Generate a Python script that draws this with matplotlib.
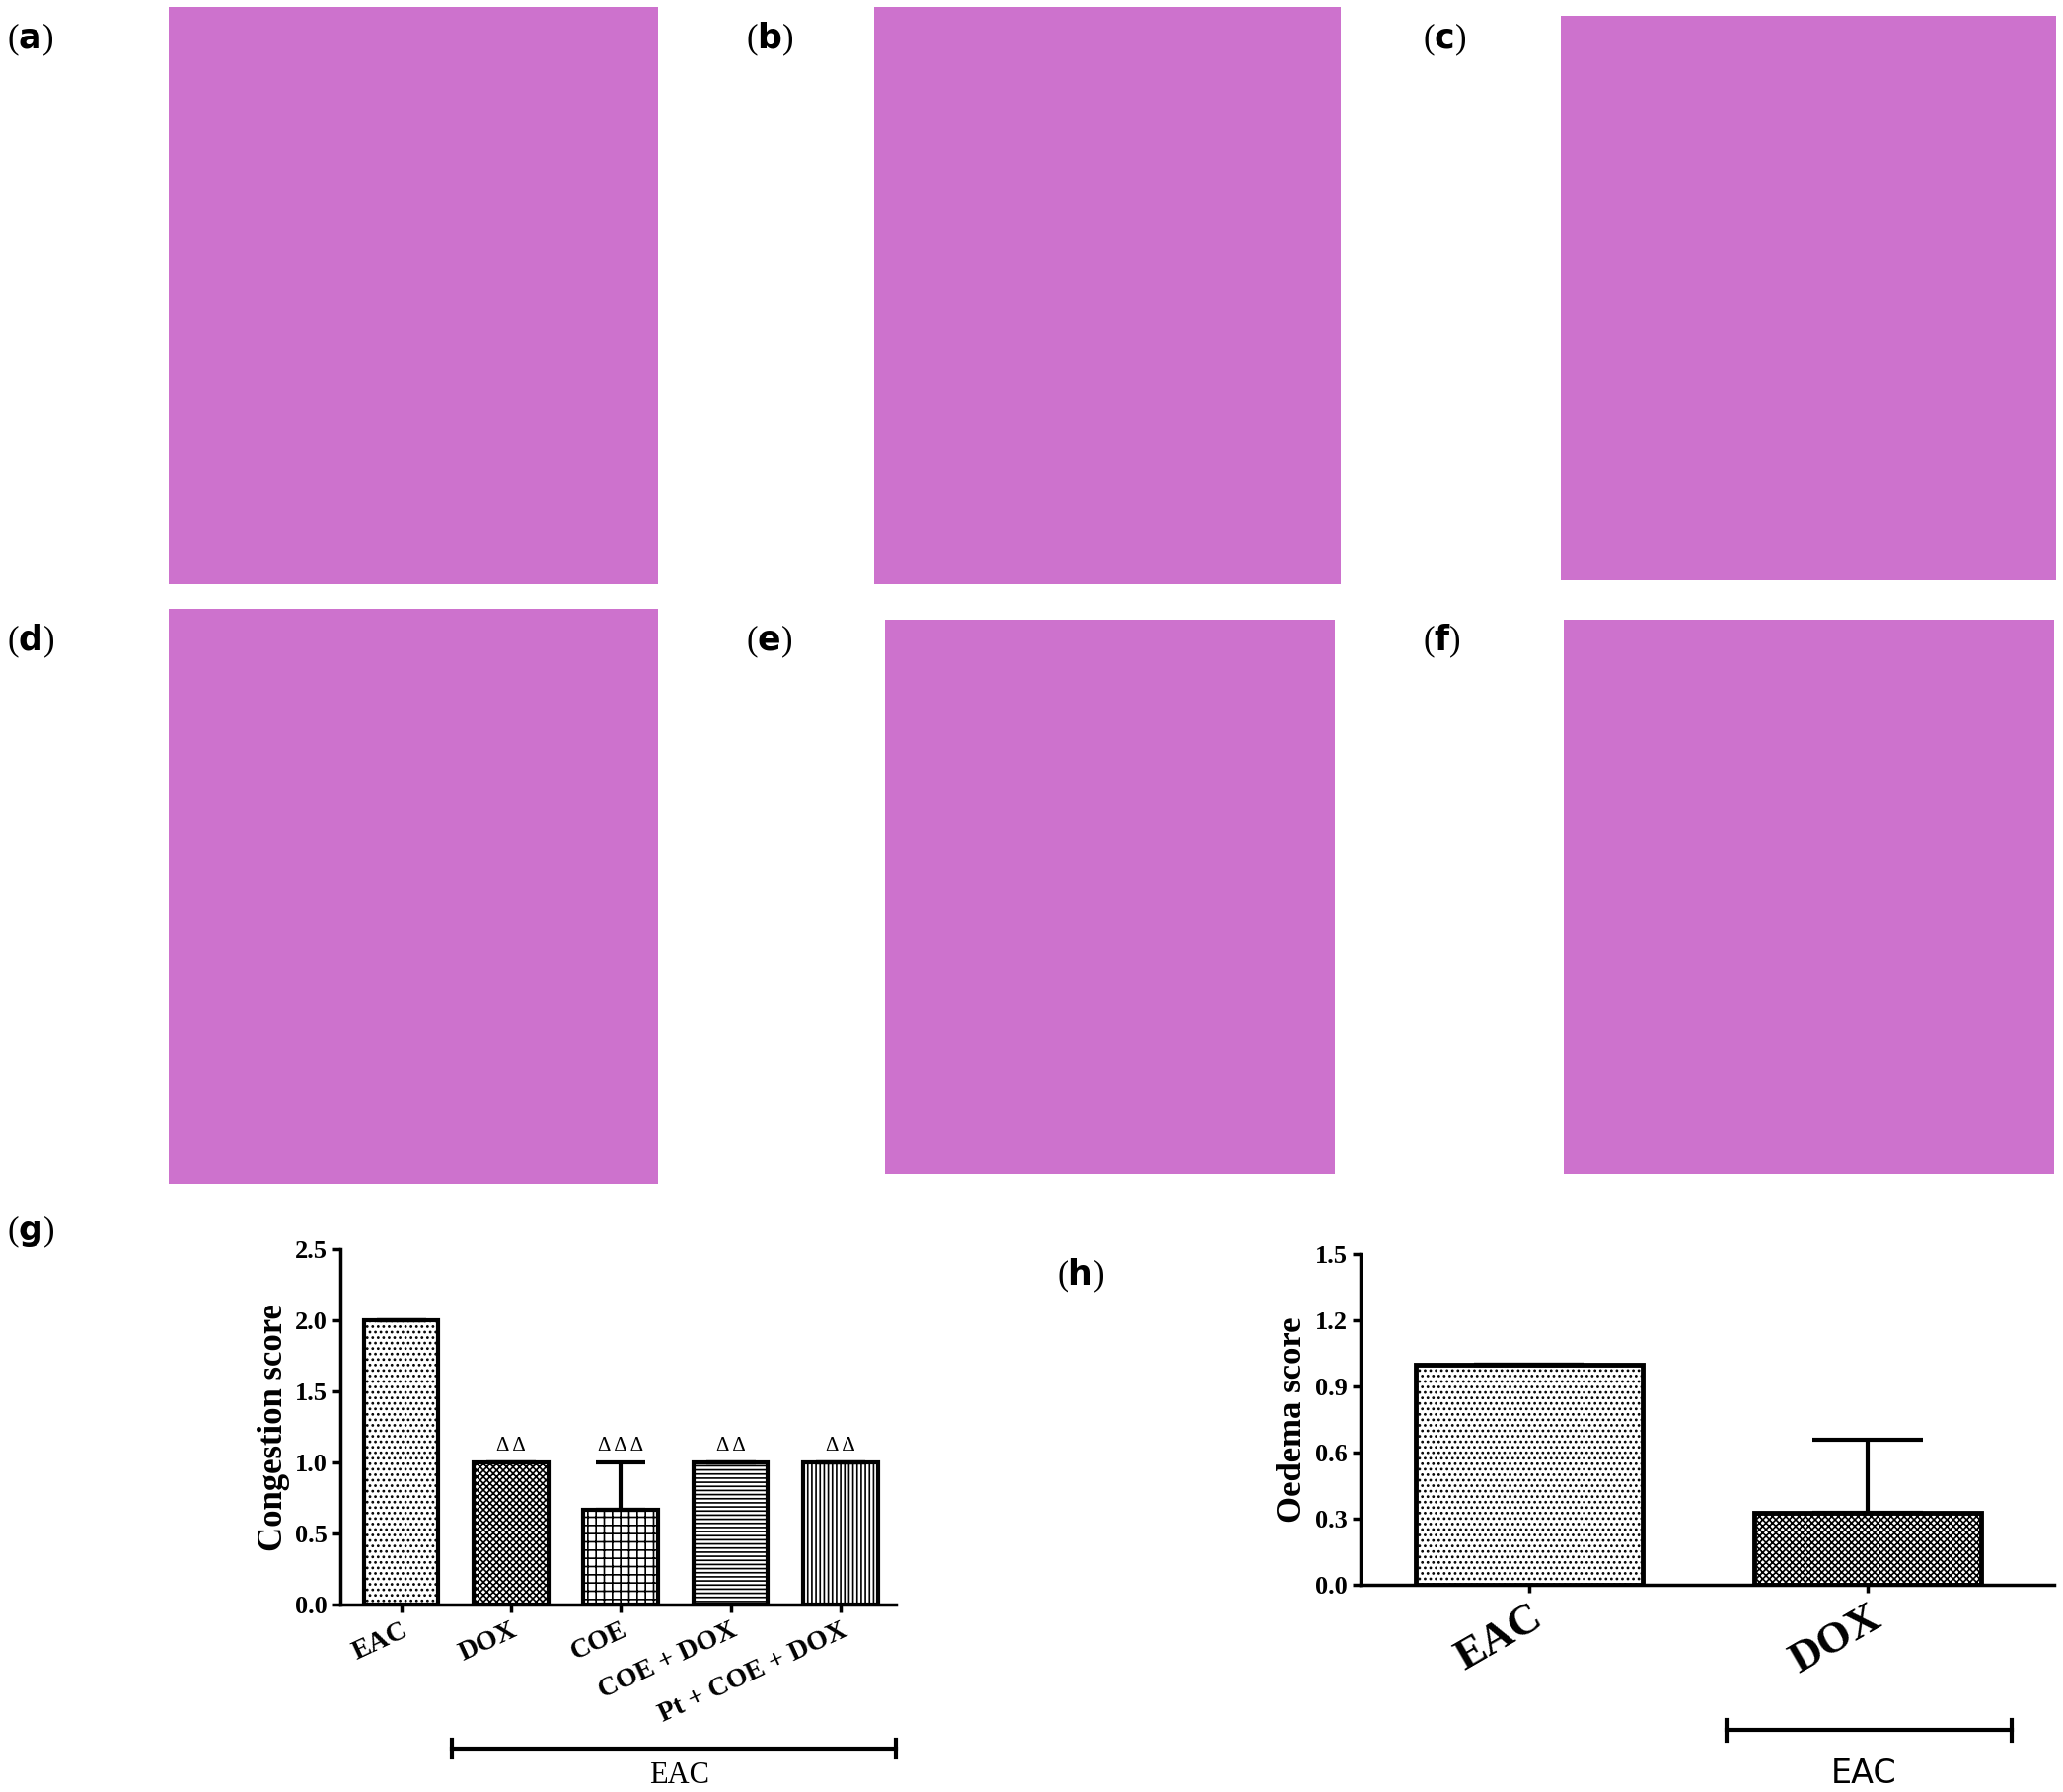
import matplotlib.pyplot as plt

plt.rcParams['font.family'] = ['Liberation Serif', 'DejaVu Serif']
plt.rcParams['hatch.linewidth'] = 1.2

# (g) congestion score
g_groups = ['EAC', 'DOX', 'COE', 'COE + DOX', 'Pt + COE + DOX']
g_vals = [2.0, 1.0, 0.67, 1.0, 1.0]
g_err = [0, 0, 0.33, 0, 0]
g_marks = ['', 'Δ Δ', 'Δ Δ Δ', 'Δ Δ', 'Δ Δ']
g_hatch = ['...', 'xxxxx', '++', '----', '||||']

# (h) oedema score
h_groups = ['EAC', 'DOX']
h_vals = [1.0, 0.33]
h_err = [0, 0.33]
h_hatch = ['...', 'xxxxx']

W, H = 1562, 1360
fig = plt.figure(figsize=(20.91, 18.16), dpi=100)

def box(x0, y0, x1, y1):
    return [x0 / W, 1 - y1 / H, (x1 - x0) / W, (y1 - y0) / H]

photos = {'(a)': (128, 5, 498, 443), '(b)': (662, 5, 1015, 443),
          '(c)': (1182, 12, 1557, 440), '(d)': (128, 462, 498, 899),
          '(e)': (670, 470, 1011, 891), '(f)': (1184, 470, 1555, 891)}
lab_pos = {'(a)': (5, 30), '(b)': (565, 30), '(c)': (1077, 30),
           '(d)': (5, 487), '(e)': (565, 487), '(f)': (1077, 487)}
for k, (x0, y0, x1, y1) in photos.items():
    ax = fig.add_axes(box(x0, y0, x1, y1))
    ax.set_facecolor('#cd72cd')
    ax.set_xticks([]); ax.set_yticks([])
    for s in ax.spines.values():
        s.set_visible(False)
    lx, ly = lab_pos[k]
    fig.text(lx / W, 1 - ly / H, '(' + r'$\mathbf{%s}$' % k[1] + ')', fontsize=25, va='center')

# panel g
axg = fig.add_axes(box(258, 948, 678, 1218))
xg = range(len(g_vals))
bars = axg.bar(xg, g_vals, width=0.68, color='white', edgecolor='black', linewidth=3)
for b, h in zip(bars, g_hatch):
    b.set_hatch(h)
axg.errorbar(xg, g_vals, yerr=[[0]*5, g_err], fmt='none', ecolor='black',
             elinewidth=3, capsize=18, capthick=3)
for x, v, e, m in zip(xg, g_vals, g_err, g_marks):
    if m:
        axg.text(x, v + e + 0.05, m, ha='center', va='bottom', fontsize=15)
axg.set_xlim(-0.55, 4.5)
axg.set_ylim(0, 2.5)
axg.set_yticks([0, 0.5, 1.0, 1.5, 2.0, 2.5])
axg.set_yticklabels(['0.0', '0.5', '1.0', '1.5', '2.0', '2.5'],
                    fontsize=19, fontweight='bold')
axg.set_xticks(list(xg))
axg.set_xticklabels(g_groups, rotation=25, ha='right', rotation_mode='anchor',
                    fontsize=20, fontweight='bold')
axg.set_ylabel('Congestion score', fontsize=25, fontweight='bold')
for s in ['top', 'right']:
    axg.spines[s].set_visible(False)
for s in ['left', 'bottom']:
    axg.spines[s].set_linewidth(2.5)
axg.tick_params(width=2.5, length=6)
fig.add_artist(plt.Line2D([342 / W, 678 / W], [1 - 1327 / H] * 2, color='black', lw=3))
for xx in (342, 678):
    fig.add_artist(plt.Line2D([xx / W] * 2, [1 - 1320 / H, 1 - 1334 / H], color='black', lw=3))
fig.text(514 / W, 1 - 1348 / H, 'EAC', ha='center', va='center', fontsize=22)
fig.text(800 / W, 1 - 968 / H, '(' + r'$\mathbf{h}$' + ')', fontsize=25, va='center')
fig.text(5 / W, 1 - 935 / H, '(' + r'$\mathbf{g}$' + ')', fontsize=25, va='center')

# panel h
axh = fig.add_axes(box(1030, 952, 1555, 1203))
xh = range(len(h_vals))
bars = axh.bar(xh, h_vals, width=0.67, color='white', edgecolor='black', linewidth=3.5)
for b, h in zip(bars, h_hatch):
    b.set_hatch(h)
axh.errorbar(xh, h_vals, yerr=[[0, 0], h_err], fmt='none', ecolor='black',
             elinewidth=3, capsize=40, capthick=3)
axh.set_xlim(-0.5, 1.55)
axh.set_ylim(0, 1.5)
axh.set_yticks([0, 0.3, 0.6, 0.9, 1.2, 1.5])
axh.set_yticklabels(['0.0', '0.3', '0.6', '0.9', '1.2', '1.5'],
                    fontsize=19, fontweight='bold')
axh.set_xticks(list(xh))
axh.set_xticklabels(h_groups, rotation=30, ha='right', rotation_mode='anchor',
                    fontsize=32, fontweight='bold')
axh.set_ylabel('Oedema score', fontsize=25, fontweight='bold')
for s in ['top', 'right']:
    axh.spines[s].set_visible(False)
for s in ['left', 'bottom']:
    axh.spines[s].set_linewidth(2.5)
axh.tick_params(width=2.5, length=6)
fig.add_artist(plt.Line2D([1307 / W, 1523 / W], [1 - 1313 / H] * 2, color='black', lw=3))
for xx in (1307, 1523):
    fig.add_artist(plt.Line2D([xx / W] * 2, [1 - 1305 / H, 1 - 1321 / H], color='black', lw=3))
fig.text(1411 / W, 1 - 1346 / H, 'EAC', ha='center', va='center', fontsize=24,
         family='DejaVu Sans')

fig.savefig('out.png', dpi=100)
